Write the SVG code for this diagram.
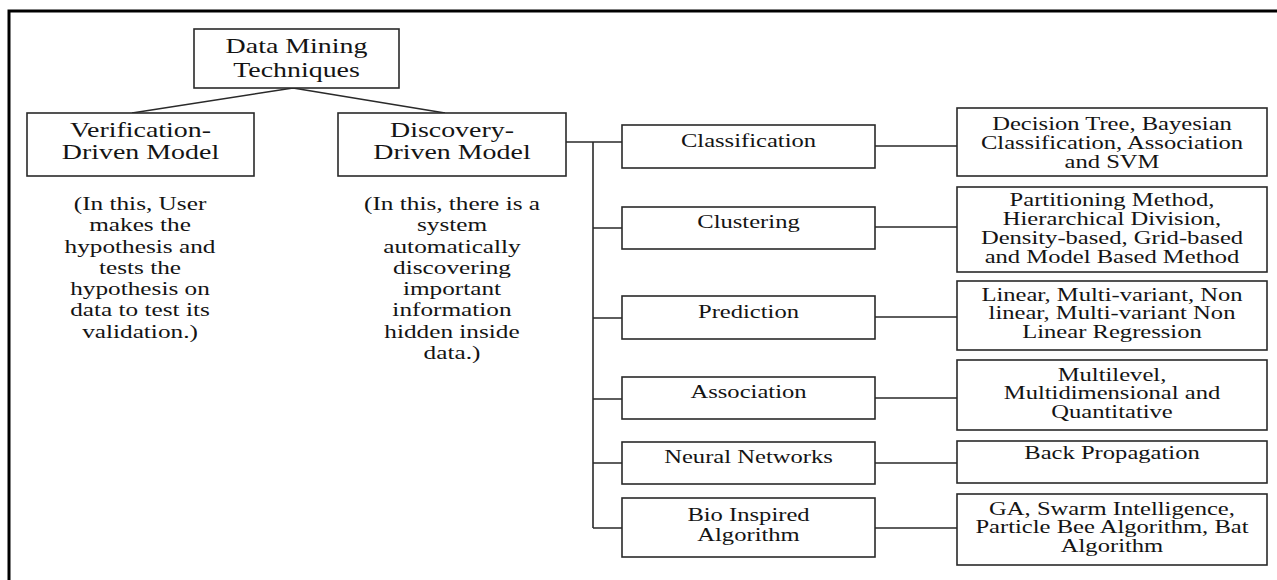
<svg xmlns="http://www.w3.org/2000/svg" width="1277" height="580" viewBox="0 0 1277 580">
<style>
  .box { fill: #fff; stroke: #2a2a2a; stroke-width: 1.6; }
  .conn { fill: none; stroke: #2a2a2a; stroke-width: 1.6; }
  .frame { fill: none; stroke: #000; stroke-width: 3; }
  text { font-family: "Liberation Serif", "Times New Roman", serif; fill: #141414; text-anchor: middle; }
  .t1 { font-size: 21px; }
  .t2 { font-size: 18.5px; }
  .t3 { font-size: 19px; }
</style>
<rect x="0" y="0" width="1277" height="580" fill="#fff"/>
<path class="frame" d="M 9 580 L 9 11 L 1277 11"/>

<g id="connectors">
  <path class="conn" d="M 293 88 L 132 113 M 293 88 L 445 113"/>
  <path class="conn" d="M 566 142 L 622 142 M 593 142 L 593 528"/>
  <path class="conn" d="M 593 228 L 622 228 M 593 318 L 622 318 M 593 399 L 622 399 M 593 463 L 622 463 M 593 528 L 622 528"/>
  <path class="conn" d="M 875 146 L 957 146 M 875 227 L 957 227 M 875 317 L 957 317 M 875 398 L 957 398 M 875 463 L 957 463 M 875 528 L 957 528"/>
</g>

<g id="root">
  <rect class="box" x="194" y="29" width="205" height="59"/>
  <text class="t1" transform="translate(296.5,53) scale(1.33,1)"><tspan x="0" y="0">Data Mining</tspan><tspan x="0" y="24">Techniques</tspan></text>
</g>

<g id="verification">
  <rect class="box" x="27" y="113" width="227" height="63"/>
  <text class="t1" transform="translate(140.5,137) scale(1.33,1)"><tspan x="0" y="0">Verification-</tspan><tspan x="0" y="22.5">Driven Model</tspan></text>
</g>
<g id="verification-desc">
  <text class="t3" transform="translate(140,210) scale(1.33,1)"><tspan x="0" y="0">(In this, User</tspan><tspan x="0" y="21.3">makes the</tspan><tspan x="0" y="42.6">hypothesis and</tspan><tspan x="0" y="63.9">tests the</tspan><tspan x="0" y="85.2">hypothesis on</tspan><tspan x="0" y="106.5">data to test its</tspan><tspan x="0" y="127.8">validation.)</tspan></text>
</g>

<g id="discovery">
  <rect class="box" x="338" y="113" width="228" height="63"/>
  <text class="t1" transform="translate(452,137) scale(1.33,1)"><tspan x="0" y="0">Discovery-</tspan><tspan x="0" y="22.5">Driven Model</tspan></text>
</g>
<g id="discovery-desc">
  <text class="t3" transform="translate(452,210) scale(1.33,1)"><tspan x="0" y="0">(In this, there is a</tspan><tspan x="0" y="21.3">system</tspan><tspan x="0" y="42.6">automatically</tspan><tspan x="0" y="63.9">discovering</tspan><tspan x="0" y="85.2">important</tspan><tspan x="0" y="106.5">information</tspan><tspan x="0" y="127.8">hidden inside</tspan><tspan x="0" y="149.1">data.)</tspan></text>
</g>

<g id="classification">
  <rect class="box" x="622" y="125" width="253" height="43"/>
  <text class="t2" transform="translate(748.5,147) scale(1.33,1)">Classification</text>
</g>
<g id="clustering">
  <rect class="box" x="622" y="207" width="253" height="42"/>
  <text class="t2" transform="translate(748.5,228) scale(1.33,1)">Clustering</text>
</g>
<g id="prediction">
  <rect class="box" x="622" y="296" width="253" height="43"/>
  <text class="t2" transform="translate(748.5,318) scale(1.33,1)">Prediction</text>
</g>
<g id="association">
  <rect class="box" x="622" y="377" width="253" height="42"/>
  <text class="t2" transform="translate(748.5,398) scale(1.33,1)">Association</text>
</g>
<g id="neural">
  <rect class="box" x="622" y="442" width="253" height="42"/>
  <text class="t2" transform="translate(748.5,463) scale(1.33,1)">Neural Networks</text>
</g>
<g id="bio">
  <rect class="box" x="622" y="498" width="253" height="59"/>
  <text class="t2" transform="translate(748.5,521) scale(1.33,1)"><tspan x="0" y="0">Bio Inspired</tspan><tspan x="0" y="20">Algorithm</tspan></text>
</g>

<g id="classification-methods">
  <rect class="box" x="957" y="108" width="310" height="68"/>
  <text class="t2" transform="translate(1112,130) scale(1.33,1)"><tspan x="0" y="0">Decision Tree, Bayesian</tspan><tspan x="0" y="19">Classification, Association</tspan><tspan x="0" y="38">and SVM</tspan></text>
</g>
<g id="clustering-methods">
  <rect class="box" x="957" y="187" width="310" height="85"/>
  <text class="t2" transform="translate(1112,206) scale(1.33,1)"><tspan x="0" y="0">Partitioning Method,</tspan><tspan x="0" y="19">Hierarchical Division,</tspan><tspan x="0" y="38">Density-based, Grid-based</tspan><tspan x="0" y="57">and Model Based Method</tspan></text>
</g>
<g id="prediction-methods">
  <rect class="box" x="957" y="281" width="310" height="69"/>
  <text class="t2" transform="translate(1112,301) scale(1.33,1)"><tspan x="0" y="0">Linear, Multi-variant, Non</tspan><tspan x="0" y="18.5">linear, Multi-variant Non</tspan><tspan x="0" y="37">Linear Regression</tspan></text>
</g>
<g id="association-methods">
  <rect class="box" x="957" y="360" width="310" height="70"/>
  <text class="t2" transform="translate(1112,381) scale(1.33,1)"><tspan x="0" y="0">Multilevel,</tspan><tspan x="0" y="18.5">Multidimensional and</tspan><tspan x="0" y="37">Quantitative</tspan></text>
</g>
<g id="neural-methods">
  <rect class="box" x="957" y="441" width="310" height="42"/>
  <text class="t2" transform="translate(1112,459) scale(1.33,1)">Back Propagation</text>
</g>
<g id="bio-methods">
  <rect class="box" x="957" y="494" width="310" height="71"/>
  <text class="t2" transform="translate(1112,515) scale(1.33,1)"><tspan x="0" y="0">GA, Swarm Intelligence,</tspan><tspan x="0" y="18.5">Particle Bee Algorithm, Bat</tspan><tspan x="0" y="37">Algorithm</tspan></text>
</g>
</svg>
